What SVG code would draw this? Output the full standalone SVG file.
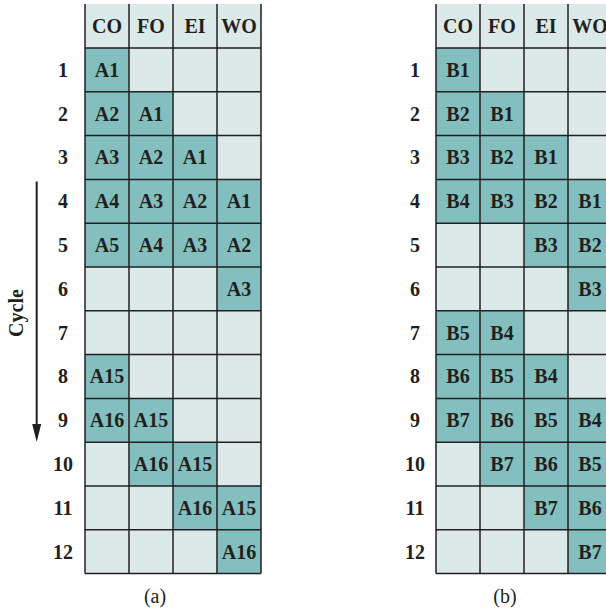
<svg xmlns="http://www.w3.org/2000/svg" width="606" height="613" viewBox="0 0 606 613">
<defs>
<style>
.bg{fill:#dbe9e8}
.dk{fill:#84bfbf}
.grid{fill:none;stroke:#231f20;stroke-width:1.5}
.t{font-family:"Liberation Serif","Times New Roman",serif;font-weight:bold;font-size:20px;fill:#231f20;text-anchor:middle}
.cap{font-family:"Liberation Serif","Times New Roman",serif;font-size:20px;fill:#231f20;text-anchor:middle}
</style>
</defs>
<rect width="606" height="613" fill="#ffffff"/>

<!-- Table (a) -->
<g id="table-a">
<rect class="bg" x="85" y="4" width="176" height="569.6"/>
<g id="a-r1c1"><rect class="dk" x="85" y="48" width="44" height="43.8"/><text class="t" x="107" y="76.7">A1</text></g>
<g id="a-r2c1"><rect class="dk" x="85" y="91.8" width="44" height="43.8"/><text class="t" x="107" y="120.5">A2</text></g>
<g id="a-r2c2"><rect class="dk" x="129" y="91.8" width="44" height="43.8"/><text class="t" x="151" y="120.5">A1</text></g>
<g id="a-r3c1"><rect class="dk" x="85" y="135.6" width="44" height="43.8"/><text class="t" x="107" y="164.3">A3</text></g>
<g id="a-r3c2"><rect class="dk" x="129" y="135.6" width="44" height="43.8"/><text class="t" x="151" y="164.3">A2</text></g>
<g id="a-r3c3"><rect class="dk" x="173" y="135.6" width="44" height="43.8"/><text class="t" x="195" y="164.3">A1</text></g>
<g id="a-r4c1"><rect class="dk" x="85" y="179.4" width="44" height="43.8"/><text class="t" x="107" y="208.1">A4</text></g>
<g id="a-r4c2"><rect class="dk" x="129" y="179.4" width="44" height="43.8"/><text class="t" x="151" y="208.1">A3</text></g>
<g id="a-r4c3"><rect class="dk" x="173" y="179.4" width="44" height="43.8"/><text class="t" x="195" y="208.1">A2</text></g>
<g id="a-r4c4"><rect class="dk" x="217" y="179.4" width="44" height="43.8"/><text class="t" x="239" y="208.1">A1</text></g>
<g id="a-r5c1"><rect class="dk" x="85" y="223.2" width="44" height="43.8"/><text class="t" x="107" y="251.9">A5</text></g>
<g id="a-r5c2"><rect class="dk" x="129" y="223.2" width="44" height="43.8"/><text class="t" x="151" y="251.9">A4</text></g>
<g id="a-r5c3"><rect class="dk" x="173" y="223.2" width="44" height="43.8"/><text class="t" x="195" y="251.9">A3</text></g>
<g id="a-r5c4"><rect class="dk" x="217" y="223.2" width="44" height="43.8"/><text class="t" x="239" y="251.9">A2</text></g>
<g id="a-r6c4"><rect class="dk" x="217" y="267" width="44" height="43.8"/><text class="t" x="239" y="295.7">A3</text></g>
<g id="a-r8c1"><rect class="dk" x="85" y="354.6" width="44" height="43.8"/><text class="t" x="107" y="383.3">A15</text></g>
<g id="a-r9c1"><rect class="dk" x="85" y="398.4" width="44" height="43.8"/><text class="t" x="107" y="427.1">A16</text></g>
<g id="a-r9c2"><rect class="dk" x="129" y="398.4" width="44" height="43.8"/><text class="t" x="151" y="427.1">A15</text></g>
<g id="a-r10c2"><rect class="dk" x="129" y="442.2" width="44" height="43.8"/><text class="t" x="151" y="470.9">A16</text></g>
<g id="a-r10c3"><rect class="dk" x="173" y="442.2" width="44" height="43.8"/><text class="t" x="195" y="470.9">A15</text></g>
<g id="a-r11c3"><rect class="dk" x="173" y="486" width="44" height="43.8"/><text class="t" x="195" y="514.7">A16</text></g>
<g id="a-r11c4"><rect class="dk" x="217" y="486" width="44" height="43.8"/><text class="t" x="239" y="514.7">A15</text></g>
<g id="a-r12c4"><rect class="dk" x="217" y="529.8" width="44" height="43.8"/><text class="t" x="239" y="558.5">A16</text></g>
<path class="grid" d="M85,4V573.6M129,4V573.6M173,4V573.6M217,4V573.6M261,4V573.6M85,48H261M85,91.8H261M85,135.6H261M85,179.4H261M85,223.2H261M85,267H261M85,310.8H261M85,354.6H261M85,398.4H261M85,442.2H261M85,486H261M85,529.8H261M85,573.6H261"/>
<g id="a-headers">
<text class="t" x="107" y="32.8">CO</text><text class="t" x="151" y="32.8">FO</text><text class="t" x="195" y="32.8">EI</text><text class="t" x="239" y="32.8">WO</text>
</g>
<g id="a-rowlabels">
<text class="t" x="63" y="76.7">1</text><text class="t" x="63" y="120.5">2</text><text class="t" x="63" y="164.3">3</text><text class="t" x="63" y="208.1">4</text><text class="t" x="63" y="251.9">5</text><text class="t" x="63" y="295.7">6</text><text class="t" x="63" y="339.5">7</text><text class="t" x="63" y="383.3">8</text><text class="t" x="63" y="427.1">9</text><text class="t" x="63" y="470.9">10</text><text class="t" x="63" y="514.7">11</text><text class="t" x="63" y="558.5">12</text>
</g>
<text class="cap" x="155" y="603">(a)</text>
</g>

<!-- Table (b) -->
<g id="table-b">
<rect class="bg" x="436" y="4" width="176" height="569.6"/>
<g id="b-r1c1"><rect class="dk" x="436" y="48" width="44" height="43.8"/><text class="t" x="458" y="76.7">B1</text></g>
<g id="b-r2c1"><rect class="dk" x="436" y="91.8" width="44" height="43.8"/><text class="t" x="458" y="120.5">B2</text></g>
<g id="b-r2c2"><rect class="dk" x="480" y="91.8" width="44" height="43.8"/><text class="t" x="502" y="120.5">B1</text></g>
<g id="b-r3c1"><rect class="dk" x="436" y="135.6" width="44" height="43.8"/><text class="t" x="458" y="164.3">B3</text></g>
<g id="b-r3c2"><rect class="dk" x="480" y="135.6" width="44" height="43.8"/><text class="t" x="502" y="164.3">B2</text></g>
<g id="b-r3c3"><rect class="dk" x="524" y="135.6" width="44" height="43.8"/><text class="t" x="546" y="164.3">B1</text></g>
<g id="b-r4c1"><rect class="dk" x="436" y="179.4" width="44" height="43.8"/><text class="t" x="458" y="208.1">B4</text></g>
<g id="b-r4c2"><rect class="dk" x="480" y="179.4" width="44" height="43.8"/><text class="t" x="502" y="208.1">B3</text></g>
<g id="b-r4c3"><rect class="dk" x="524" y="179.4" width="44" height="43.8"/><text class="t" x="546" y="208.1">B2</text></g>
<g id="b-r4c4"><rect class="dk" x="568" y="179.4" width="44" height="43.8"/><text class="t" x="590" y="208.1">B1</text></g>
<g id="b-r5c3"><rect class="dk" x="524" y="223.2" width="44" height="43.8"/><text class="t" x="546" y="251.9">B3</text></g>
<g id="b-r5c4"><rect class="dk" x="568" y="223.2" width="44" height="43.8"/><text class="t" x="590" y="251.9">B2</text></g>
<g id="b-r6c4"><rect class="dk" x="568" y="267" width="44" height="43.8"/><text class="t" x="590" y="295.7">B3</text></g>
<g id="b-r7c1"><rect class="dk" x="436" y="310.8" width="44" height="43.8"/><text class="t" x="458" y="339.5">B5</text></g>
<g id="b-r7c2"><rect class="dk" x="480" y="310.8" width="44" height="43.8"/><text class="t" x="502" y="339.5">B4</text></g>
<g id="b-r8c1"><rect class="dk" x="436" y="354.6" width="44" height="43.8"/><text class="t" x="458" y="383.3">B6</text></g>
<g id="b-r8c2"><rect class="dk" x="480" y="354.6" width="44" height="43.8"/><text class="t" x="502" y="383.3">B5</text></g>
<g id="b-r8c3"><rect class="dk" x="524" y="354.6" width="44" height="43.8"/><text class="t" x="546" y="383.3">B4</text></g>
<g id="b-r9c1"><rect class="dk" x="436" y="398.4" width="44" height="43.8"/><text class="t" x="458" y="427.1">B7</text></g>
<g id="b-r9c2"><rect class="dk" x="480" y="398.4" width="44" height="43.8"/><text class="t" x="502" y="427.1">B6</text></g>
<g id="b-r9c3"><rect class="dk" x="524" y="398.4" width="44" height="43.8"/><text class="t" x="546" y="427.1">B5</text></g>
<g id="b-r9c4"><rect class="dk" x="568" y="398.4" width="44" height="43.8"/><text class="t" x="590" y="427.1">B4</text></g>
<g id="b-r10c2"><rect class="dk" x="480" y="442.2" width="44" height="43.8"/><text class="t" x="502" y="470.9">B7</text></g>
<g id="b-r10c3"><rect class="dk" x="524" y="442.2" width="44" height="43.8"/><text class="t" x="546" y="470.9">B6</text></g>
<g id="b-r10c4"><rect class="dk" x="568" y="442.2" width="44" height="43.8"/><text class="t" x="590" y="470.9">B5</text></g>
<g id="b-r11c3"><rect class="dk" x="524" y="486" width="44" height="43.8"/><text class="t" x="546" y="514.7">B7</text></g>
<g id="b-r11c4"><rect class="dk" x="568" y="486" width="44" height="43.8"/><text class="t" x="590" y="514.7">B6</text></g>
<g id="b-r12c4"><rect class="dk" x="568" y="529.8" width="44" height="43.8"/><text class="t" x="590" y="558.5">B7</text></g>
<path class="grid" d="M436,4V573.6M480,4V573.6M524,4V573.6M568,4V573.6M612,4V573.6M436,48H612M436,91.8H612M436,135.6H612M436,179.4H612M436,223.2H612M436,267H612M436,310.8H612M436,354.6H612M436,398.4H612M436,442.2H612M436,486H612M436,529.8H612M436,573.6H612"/>
<g id="b-headers">
<text class="t" x="458" y="32.8">CO</text><text class="t" x="502" y="32.8">FO</text><text class="t" x="546" y="32.8">EI</text><text class="t" x="590" y="32.8">WO</text>
</g>
<g id="b-rowlabels">
<text class="t" x="415" y="76.7">1</text><text class="t" x="415" y="120.5">2</text><text class="t" x="415" y="164.3">3</text><text class="t" x="415" y="208.1">4</text><text class="t" x="415" y="251.9">5</text><text class="t" x="415" y="295.7">6</text><text class="t" x="415" y="339.5">7</text><text class="t" x="415" y="383.3">8</text><text class="t" x="415" y="427.1">9</text><text class="t" x="415" y="470.9">10</text><text class="t" x="415" y="514.7">11</text><text class="t" x="415" y="558.5">12</text>
</g>
<text class="cap" x="505" y="603">(b)</text>
</g>

<!-- Cycle arrow -->
<g id="connectors">
<line x1="36.7" y1="181.5" x2="36.7" y2="428" stroke="#231f20" stroke-width="2"/>
<polygon points="32.2,424 41.2,424 36.7,442" fill="#231f20"/>
</g>
<text class="t" transform="translate(23,313) rotate(-90)" x="0" y="0">Cycle</text>
</svg>
